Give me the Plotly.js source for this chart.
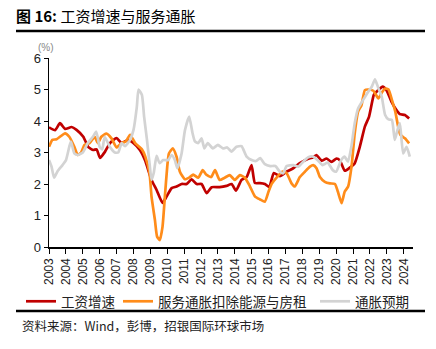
<!DOCTYPE html>
<html>
<head>
<meta charset="utf-8">
<script src="https://cdn.plot.ly/plotly-3.0.1.min.js"></script>
<style>html,body{margin:0;padding:0;background:#fff;}#chart{width:436px;height:349px;}</style>
</head>
<body>
<div id="chart"></div>
<script>
// Wage growth (%)
const wageX = [2003.0,2003.36,2003.65,2003.95,2004.34,2004.63,2005.03,2005.33,2005.62,2005.82,2006.02,2006.31,2006.61,2007.0,2007.3,2007.69,2007.99,2008.38,2008.68,2009.07,2009.37,2009.72,2009.96,2010.26,2010.55,2010.85,2011.15,2011.44,2011.74,2012.03,2012.33,2012.63,2013.1,2013.51,2013.81,2014.07,2014.4,2014.7,2014.99,2015.19,2015.49,2015.78,2016.04,2016.31,2016.67,2017.06,2017.46,2017.85,2018.25,2018.64,2018.84,2019.14,2019.43,2019.73,2020.02,2020.22,2020.51,2020.81,2021.1,2021.4,2021.7,2021.95,2022.23,2022.39,2022.5,2022.75,2022.98,2023.28,2023.57,2023.77,2024.07,2024.32];
const wageY = [3.8,3.71,3.93,3.75,3.81,3.72,3.5,3.17,3.08,3.1,2.83,3.02,3.3,3.46,3.3,3.4,3.3,3.08,2.76,2.13,1.81,1.4,1.6,1.87,1.92,2.0,2.0,2.15,2.0,2.0,1.71,1.9,1.9,1.94,2.0,1.79,2.13,2.22,2.6,2.03,2.03,2.0,1.9,2.35,2.25,2.39,2.5,2.66,2.78,2.85,2.92,2.74,2.81,2.7,2.81,2.75,2.42,2.52,2.66,3.18,3.82,4.14,4.83,4.93,4.98,5.09,4.98,4.61,4.35,4.22,4.19,4.08];

// Services inflation ex energy & rent (%)
const svcX = [2003.0,2003.2,2003.45,2003.95,2004.2,2004.5,2004.7,2004.9,2005.1,2005.4,2005.7,2005.9,2006.1,2006.4,2006.7,2007.0,2007.3,2007.55,2007.8,2008.1,2008.5,2008.7,2008.95,2009.07,2009.27,2009.4,2009.56,2009.72,2009.86,2010.0,2010.1,2010.33,2010.55,2010.75,2011.05,2011.34,2011.54,2011.84,2012.1,2012.3,2012.6,2012.83,2013.1,2013.4,2013.7,2014.0,2014.3,2014.6,2014.9,2015.2,2015.5,2015.78,2016.0,2016.2,2016.5,2016.8,2017.06,2017.36,2017.55,2017.85,2018.15,2018.45,2018.64,2018.84,2019.04,2019.33,2019.63,2019.93,2020.1,2020.32,2020.51,2020.71,2020.91,2021.1,2021.3,2021.5,2021.7,2021.9,2022.2,2022.5,2022.7,2022.9,2023.1,2023.3,2023.5,2023.67,2023.8,2024.07,2024.32];
const svcY = [3.18,3.4,3.42,3.61,3.5,3.18,2.92,3.0,3.24,3.3,3.5,3.3,3.5,3.6,3.45,3.16,3.3,3.35,3.56,3.3,3.1,2.87,2.35,1.6,0.86,0.33,0.22,0.64,1.6,2.55,2.97,3.13,2.87,2.39,2.15,2.22,2.3,2.2,2.44,2.3,2.22,2.44,2.13,2.2,2.28,2.13,2.28,2.2,1.92,1.6,1.51,1.44,1.76,2.02,2.22,2.39,2.35,2.02,1.92,2.22,2.39,2.55,2.6,2.5,2.22,2.07,2.02,2.0,1.76,1.39,1.76,1.92,2.55,3.61,4.3,4.5,4.98,5.0,4.96,4.72,4.9,5.03,5.0,4.67,4.3,3.82,3.56,3.45,3.29];

// Inflation expectations (%)
const expX = [2003.0,2003.15,2003.3,2003.5,2003.8,2004.0,2004.2,2004.3,2004.5,2004.7,2005.0,2005.3,2005.6,2005.8,2006.0,2006.15,2006.3,2006.6,2006.9,2007.1,2007.3,2007.5,2007.8,2008.0,2008.2,2008.3,2008.5,2008.63,2008.8,2008.95,2009.07,2009.2,2009.37,2009.55,2009.76,2010.06,2010.26,2010.45,2010.6,2010.85,2011.05,2011.3,2011.5,2011.64,2011.84,2012.03,2012.2,2012.4,2012.7,2013.0,2013.3,2013.55,2013.8,2014.1,2014.4,2014.7,2015.0,2015.25,2015.5,2015.78,2016.1,2016.4,2016.67,2016.87,2017.06,2017.46,2017.75,2018.05,2018.35,2018.64,2018.94,2019.2,2019.5,2019.8,2020.0,2020.3,2020.5,2020.7,2020.9,2021.1,2021.3,2021.6,2021.9,2022.1,2022.3,2022.5,2022.7,2022.9,2023.1,2023.3,2023.47,2023.63,2023.77,2023.97,2024.17,2024.36];
const expY = [2.76,2.55,2.2,2.4,2.6,2.75,3.18,3.35,2.97,2.92,3.0,3.3,3.5,3.66,3.18,3.1,3.5,3.18,3.0,3.0,3.3,3.2,3.4,3.71,4.45,5.0,4.83,4.14,3.4,2.66,2.13,2.35,2.89,2.66,2.76,2.76,2.92,2.76,2.5,2.97,3.71,4.14,3.61,3.35,3.3,3.45,3.13,3.3,3.13,3.24,3.13,3.16,3.03,3.18,3.2,2.87,2.76,2.73,2.82,2.63,2.57,2.57,2.39,2.34,2.57,2.6,2.55,2.71,2.85,2.87,2.74,2.6,2.68,2.44,2.39,2.76,2.87,2.71,3.18,3.93,4.4,4.67,4.93,5.08,5.32,5.04,4.77,4.19,4.05,4.03,3.4,3.71,3.93,2.97,3.18,2.87];

const years = [2003,2004,2005,2006,2007,2008,2009,2010,2011,2012,2013,2014,2015,2016,2017,2018,2019,2020,2021,2022,2023,2024];
const yearLabels = years.map(String);
const seriesNames = ['工资增速','服务通胀扣除能源与房租','通胀预期'];
const yTicks = [0,1,2,3,4,5,6];

const cjk = '"Noto Sans CJK SC", "Liberation Sans", Arial, sans-serif';
const lat = '"Liberation Sans", Arial, sans-serif';

const traces = [
  {x: wageX, y: wageY, name: seriesNames[0], legend:'legend', type:'scatter', mode:'lines', line:{color:'#C00000', width:2.7, shape:'spline', smoothing:0.5}},
  {x: svcX, y: svcY, name: seriesNames[1], legend:'legend2', type:'scatter', mode:'lines', line:{color:'#FF8C1A', width:2.7, shape:'spline', smoothing:0.5}},
  {x: expX, y: expY, name: seriesNames[2], legend:'legend3', type:'scatter', mode:'lines', line:{color:'#D3D3D3', width:2.7, shape:'spline', smoothing:0.5}}
];

function legendAt(px) {
  return {xref:'container', yref:'container', x:px/436, xanchor:'left', y:1-286/349, yanchor:'top', font:{family:cjk, size:13.5, color:'#222'}, bgcolor:'rgba(0,0,0,0)', borderwidth:0};
}

const layout = {
  width:436, height:349,
  margin:{l:49, r:23, t:58, b:102, autoexpand:false},
  paper_bgcolor:'#fff', plot_bgcolor:'#fff',
  showlegend:true,
  legend: legendAt(21),
  legend2: legendAt(118),
  legend3: legendAt(315),
  xaxis:{range:[2003,2024.55], tickvals:years, ticktext:yearLabels, tickangle:-90, showgrid:false, zeroline:false, showline:true, linecolor:'#000', linewidth:1.5, ticks:'outside', ticklen:5, tickcolor:'#000', tickfont:{family:lat, size:12, color:'#222'}, fixedrange:true, automargin:false},
  yaxis:{range:[0,6], tickvals:yTicks, showgrid:false, zeroline:false, showline:true, linecolor:'#000', linewidth:1.5, ticks:'outside', ticklen:4, tickcolor:'#000', tickfont:{family:lat, size:13, color:'#222'}, fixedrange:true, automargin:false},
  title:{text:'<b>图 16: </b>工资增速与服务通胀', x:16/436, xanchor:'left', y:1-17/349, yanchor:'middle', font:{family:cjk, size:15, color:'#000'}},
  shapes:[
    {type:'line', xref:'paper', yref:'paper', x0:-33/364, x1:(425-49)/364, y0:(247-31)/189, y1:(247-31)/189, line:{color:'#000', width:2.5}},
    {type:'line', xref:'paper', yref:'paper', x0:-33/364, x1:(425-49)/364, y0:(247-311)/189, y1:(247-311)/189, line:{color:'#000', width:2.5}}
  ],
  annotations:[
    {text:'(%)', xref:'paper', yref:'paper', x:-3/364, y:(247-47)/189, xanchor:'center', yanchor:'middle', showarrow:false, font:{family:lat, size:10, color:'#888'}},
    {text:'资料来源：Wind，彭博，招银国际环球市场', xref:'paper', yref:'paper', x:-29/364, y:(247-325)/189, xanchor:'left', yanchor:'middle', showarrow:false, font:{family:cjk, size:12.5, color:'#222'}}
  ]
};
Plotly.newPlot('chart', traces, layout, {displayModeBar:false, staticPlot:true});
</script>
</body>
</html>
